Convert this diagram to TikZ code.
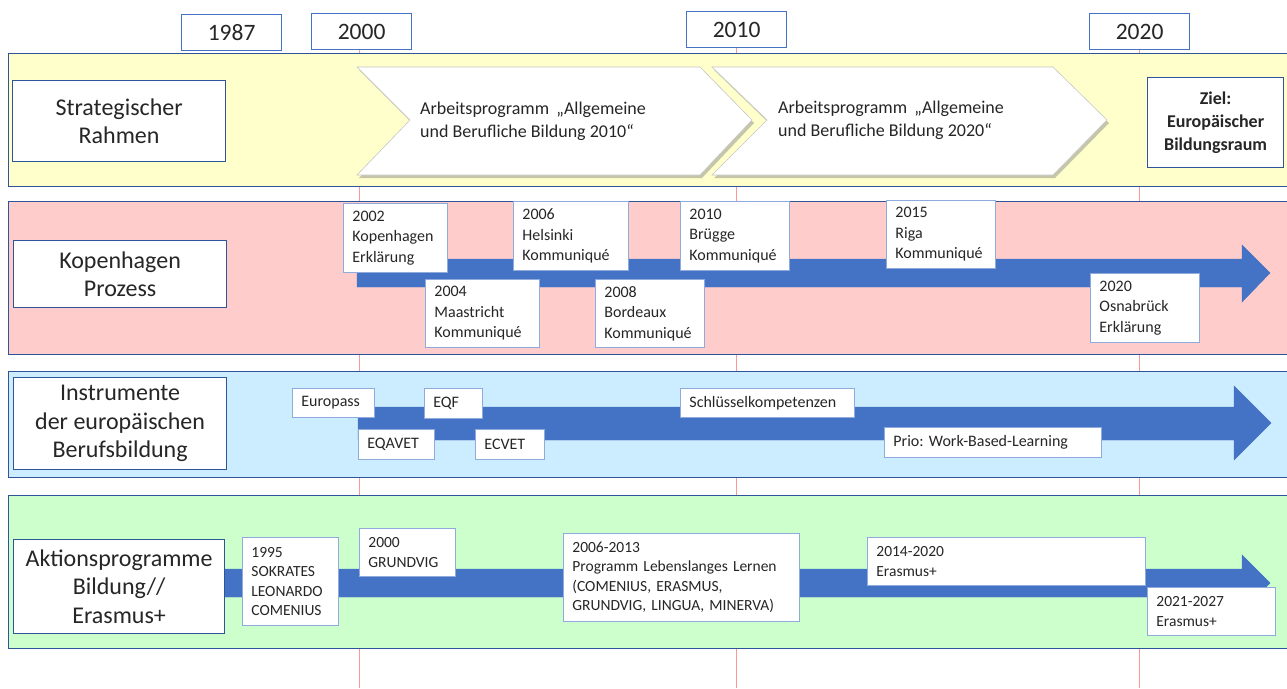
\documentclass[tikz,border=0pt]{standalone}
\usepackage{fontspec}
\setmainfont{Carlito}
\usepackage{tikz}
\usetikzlibrary{shadows}
\frenchspacing

\definecolor{bandline}{RGB}{47,85,151}
\definecolor{labelline}{RGB}{68,114,196}
\definecolor{boxline}{RGB}{143,170,220}
\definecolor{arrowblue}{RGB}{68,114,196}
\definecolor{yearred}{RGB}{255,150,150}
\definecolor{stratfill}{RGB}{255,255,204}
\definecolor{kopfill}{RGB}{255,204,204}
\definecolor{instfill}{RGB}{204,236,255}
\definecolor{aktfill}{RGB}{204,255,204}
\definecolor{txt}{RGB}{38,38,38}

\begin{document}
\begin{tikzpicture}[x=1pt, y=-1pt,
    every node/.style={text=txt},
    yearbox/.style={draw=labelline, line width=1.2pt, fill=white, anchor=north west,
      minimum width=100pt, minimum height=36pt, inner sep=0pt, font=\fontsize{23.5}{28}\selectfont},
    band/.style={draw=bandline, line width=1pt},
    rowlabel/.style 2 args={draw=bandline, line width=1.2pt, fill=white, anchor=north west,
      align=center, minimum width=#1, minimum height=#2, inner sep=0pt, font=\fontsize{24}{28.5}\selectfont},
    evbox/.style 2 args={draw=boxline, line width=0.8pt, fill=white, anchor=north west,
      align=left, inner xsep=9pt, inner ysep=0pt, text width=#1, minimum height=#2,
      font=\fontsize{16}{20.5}\selectfont},
    chevron/.style={fill=white, draw=gray!45, line width=0.6pt,
      drop shadow={shadow xshift=2pt, shadow yshift=-3pt, opacity=.45}},
    chevtext/.style={anchor=west, align=left, inner sep=0pt, font=\fontsize{18}{23}\selectfont},
    tlarrow/.style={fill=arrowblue, draw=arrowblue},
    yearline/.style={draw=yearred, line width=1pt}]
    \useasboundingbox (0,0) rectangle (1287,688);
    \clip (0,0) rectangle (1287,688);
    \coordinate (bottom) at (0,688);

    % years
    \node[yearbox] (y1987) at (181,14) {1987};
    \node[yearbox] (y2000) at (311,13) {2000};
    \node[yearbox] (y2010) at (686,11) {2010};
    \node[yearbox] (y2020) at (1089,13) {2020};
    \draw[yearline] ([xshift=-2.5pt]y2000.south) -- ([xshift=-2.5pt]y2000.south |- bottom);
    \draw[yearline] (y2010.south) -- (y2010.south |- bottom);
    \draw[yearline] (y2020.south) -- (y2020.south |- bottom);

    % bands
    \draw[band, fill=stratfill] (8,53) rectangle (1295,186);
    \draw[band, fill=kopfill] (8,201) rectangle (1295,354);
    \draw[band, fill=instfill] (8,371) rectangle (1295,477);
    \draw[band, fill=aktfill] (8,495) rectangle (1295,648);

    % strategischer Rahmen
    \node[rowlabel={213pt}{81pt}] (strat) at (12,80) {Strategischer\\Rahmen};
    \draw[chevron] (357,67) -- (700,67) -- (752,120) -- (700,175) -- (357,175) -- (410,120) -- cycle;
    \draw[chevron] (712,67) -- (1053,67) -- (1107,120) -- (1053,175) -- (712,175) -- (767,120) -- cycle;
    \node[chevtext] (prog2010) at (420,121) {Arbeitsprogramm \,„Allgemeine\\und Berufliche Bildung 2010“};
    \node[chevtext] (prog2020) at (778,120) {Arbeitsprogramm \,„Allgemeine\\und Berufliche Bildung 2020“};
    \node[draw=bandline, line width=1.2pt, fill=white, anchor=north west, align=center,
      minimum width=136pt, minimum height=90pt, inner sep=0pt,
      font=\bfseries\fontsize{18}{23}\selectfont] (ziel) at (1147,77) {Ziel:\\Europäischer\\Bildungsraum};

    % Kopenhagen Prozess
    \node[rowlabel={213pt}{67pt}] (kopproc) at (13,240) {Kopenhagen\\Prozess};
    \draw[tlarrow] (357,259) -- (1242,259) -- (1242,245) -- (1270,273) -- (1242,302) -- (1242,287) -- (357,287) -- cycle;
    \node[evbox={86pt}{69pt}] (kop2002) at (343,203) {2002\\Kopenhagen\\Erklärung};
    \node[evbox={96pt}{68pt}] (maa2004) at (425,279) {2004\\Maastricht\\Kommuniqué};
    \node[evbox={97pt}{69pt}] (hel2006) at (513,201) {2006\\Helsinki\\Kommuniqué};
    \node[evbox={91pt}{68pt}] (bor2008) at (595,279) {2008\\Bordeaux\\Kommuniqué};
    \node[evbox={91pt}{69pt}] (bru2010) at (680,201) {2010\\Brügge\\Kommuniqué};
    \node[evbox={91pt}{68pt}] (rig2015) at (886,200) {2015\\Riga\\Kommuniqué};
    \node[evbox={91pt}{69pt}] (osn2020) at (1090,273) {2020\\Osnabrück\\Erklärung};

    % Instrumente
    \node[rowlabel={213pt}{92pt}] (instr) at (13,377) {Instrumente\\der europäischen\\Berufsbildung};
    \draw[tlarrow] (358,407) -- (1234,407) -- (1234,386) -- (1271,423) -- (1234,460) -- (1234,440) -- (358,440) -- cycle;
    \node[evbox={64pt}{29pt}] (europass) at (292,388) {Europass};
    \node[evbox={40pt}{30pt}] (eqf) at (424,388) {EQF};
    \node[evbox={58pt}{30pt}] (eqavet) at (358,429) {EQAVET};
    \node[evbox={51pt}{30pt}] (ecvet) at (475,429) {ECVET};
    \node[evbox={156pt}{29pt}] (skills) at (680,388) {Schlüsselkompetenzen};
    \node[evbox={199pt}{30pt}] (wbl) at (884,427) {Prio: Work-Based-Learning};

    % Aktionsprogramme
    \draw[tlarrow] (224,569) -- (1242,569) -- (1242,555) -- (1270,583) -- (1242,611) -- (1242,597) -- (224,597) -- cycle;
    \node[rowlabel={211pt}{94pt}] (aktion) at (13,539) {Aktionsprogramme\\Bildung//\\Erasmus+};
    \node[evbox={78pt}{88pt}, font=\fontsize{15.5}{19.3}\selectfont] (sok1995) at (242,537) {1995\\SOKRATES\\LEONARDO\\COMENIUS};
    \node[evbox={78pt}{48pt}, font=\fontsize{15.5}{19.3}\selectfont] (gru2000) at (359,528) {2000\\GRUNDVIG};
    \node[evbox={218pt}{88pt}, font=\fontsize{15.5}{19.5}\selectfont] (lll2006) at (563,533) {2006-2013\\Programm Lebenslanges Lernen\\(COMENIUS, ERASMUS,\\GRUNDVIG, LINGUA, MINERVA)};
    \node[evbox={260pt}{48pt}, font=\fontsize{15.5}{19.3}\selectfont] (era2014) at (867,537) {2014-2020\\Erasmus+};
    \node[evbox={110pt}{48pt}, font=\fontsize{15.5}{19.3}\selectfont] (era2021) at (1147,587) {2021-2027\\Erasmus+};
  \end{tikzpicture}
\end{document}
